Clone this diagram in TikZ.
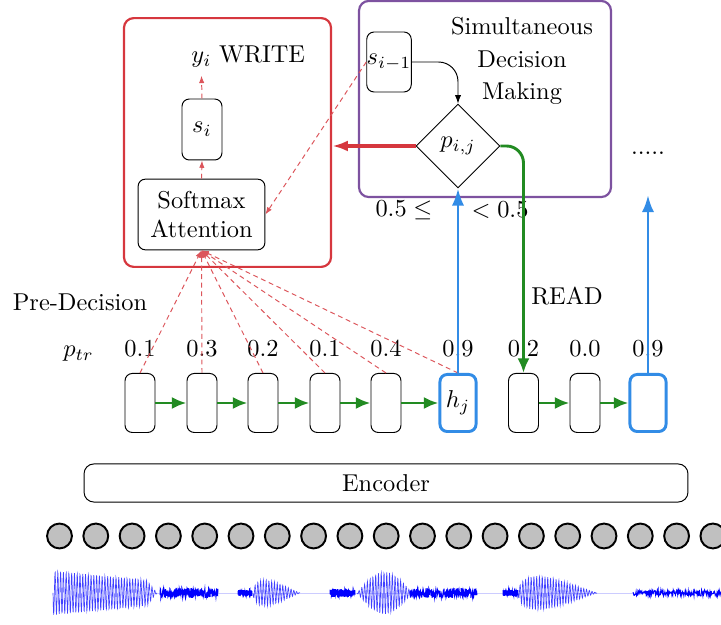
\documentclass[tikz,border=0pt]{standalone}
\usepackage{amsmath,amssymb}
\usepackage{tikz}
\usetikzlibrary{positioning,calc,shapes.geometric,arrows.meta}

\definecolor{writered}{RGB}{214,55,62}
\definecolor{decpurple}{RGB}{125,82,160}
\definecolor{readgreen}{RGB}{34,139,34}
\definecolor{stateblue}{RGB}{50,140,230}
\definecolor{framegray}{RGB}{192,192,192}

\begin{document}
\begin{tikzpicture}[x=0.41pt,y=-0.41pt,
    rbox/.style={draw,rounded corners=3pt,inner sep=0pt},
    hbox/.style={rbox,minimum width=12.3pt,minimum height=24.2pt},
    hsel/.style={rbox,draw=stateblue,line width=1.2pt,minimum width=14.8pt,minimum height=23.4pt},
    frame/.style={circle,draw,fill=framegray,line width=0.8pt,minimum size=10.2pt,inner sep=0pt},
    flow/.style={draw=readgreen,line width=1.2pt,-{Latex[length=6pt,width=5pt]}},
    selarrow/.style={draw=stateblue,line width=1.2pt,-{Latex[length=7pt,width=5pt]}},
    writearrow/.style={draw=writered,line width=1.3pt,-{Latex[length=6.5pt,width=4.5pt]}},
    attn/.style={draw=writered!85,line width=0.4pt,dash pattern=on 2pt off 1.5pt,-{Latex[length=3pt,width=2.2pt]}},
    wave/.style={blue!75,line width=0.25pt}]
  \useasboundingbox (0,0) rectangle (721,625);

  % WRITE block
  \node[draw=writered,line width=0.9pt,rounded corners=4pt,minimum width=84.9pt,minimum height=102pt] (writebox) at (227.5,142.5) {};
  \node[rbox,align=center,minimum width=52pt,minimum height=29pt] (softmax) at (201.5,214.5) {Softmax\\Attention};
  \node[rbox,minimum width=16.4pt,minimum height=25pt] (si) at (202,129.5) {$s_i$};
  \node (yi) at (201.5,59.5) {$y_i$};
  \node[anchor=base west,xshift=-4pt] (write) at (yi.base east) {WRITE};

  % decision block
  \node[draw=decpurple,line width=0.9pt,rounded corners=4pt,minimum width=103.3pt,minimum height=80.4pt] (decbox) at (485,99) {};
  \node[align=center] (simtxt) at (522,61) {Simultaneous\\[1.3pt]Decision\\[1.3pt]Making};
  \node[rbox,minimum width=17.2pt,minimum height=24.6pt] (sim1) at (389,62) {$s_{i-1}$};
  \node[draw,diamond,minimum width=34.4pt,minimum height=34.4pt,inner sep=0pt] (pij) at (458,146) {$p_{i,j}$};
  \node (ge) at (404,210) {$0.5\leq$};
  \node (lt) at (500,210) {$<0.5$};
  \node (dots) at (648,153) {.....};
  \node (read) at (567,296) {READ};
  \node (predec) at (80,302) {Pre-Decision};

  % encoder states
  \node[hbox] (h1) at (140,403) {};
  \node[hbox] (h2) at (202,403) {};
  \node[hbox] (h3) at (263,403) {};
  \node[hbox] (h4) at (325,403) {};
  \node[hbox] (h5) at (386,403) {};
  \node[hsel] (hj) at (458,403) {$h_j$};
  \node[hbox] (h7) at (523.5,403) {};
  \node[hbox] (h8) at (585,403) {};
  \node[hsel] (h9) at (648,403) {};

  \node[above=3pt of h1] (p1) {0.1};
  \node[above=3pt of h2] (p2) {0.3};
  \node[above=3pt of h3] (p3) {0.2};
  \node[above=3pt of h4] (p4) {0.1};
  \node[above=3pt of h5] (p5) {0.4};
  \node[above=3pt of hj] (pj) {0.9};
  \node[above=3pt of h7] (p7) {0.2};
  \node[above=3pt of h8] (p8) {0.0};
  \node[above=3pt of h9] (p9) {0.9};
  \node[anchor=base] (ptr) at ($(p1.base)+(-61.5,0)$) {$p_{tr}$};
  \coordinate (nxt) at (648,195);

  \node[draw,rounded corners=4pt,minimum width=247.6pt,minimum height=15.6pt] (enc) at (386,483) {Encoder};
  \foreach \i in {0,...,18}
    \node[frame] (f\i) at (59.5+36.3*\i,536) {};

  % connectors
  \foreach \a/\b in {h1/h2,h2/h3,h3/h4,h4/h5,h5/hj,h7/h8,h8/h9}
    \draw[flow] (\a.east) -- (\b.west);
  \foreach \n in {h1,h2,h3,h4,h5,hj}
    \draw[attn] (\n.north) -- (softmax.south);
  \draw[attn] (softmax.north) -- (si.south);
  \draw[attn] (si.north) -- (yi.south);
  \draw[attn] (sim1.west) -- (softmax.east);
  \draw[line width=0.4pt,-{Latex[length=3.5pt,width=2.6pt]},rounded corners=8pt] (sim1.east) -| (pij.north);
  \draw[writearrow] (pij.west) -- (pij.west -| writebox.east);
  \draw[flow,rounded corners=7pt] (pij.east) -| (h7.north);
  \draw[selarrow] (hj.north) -- (pij.south);
  \draw[selarrow] (h9.north) -- (nxt);

  % waveform
  \draw[blue!20,line width=0.4pt] (155,593) -- (721,593);
  \draw[wave] plot[domain=0:104,samples=330] (53+\x,{593+22*(1-0.45*\x/104)*min(1,(104-\x)/10)*sin(130*\x)});
  \draw[wave] plot[domain=0:47,samples=150] (253+\x,{593+13*sin(180*sqrt(\x/47))*sin(130*\x)});
  \draw[wave] plot[domain=0:55,samples=175] (357+\x,{593+21*sin(180*\x/55)*sin(130*\x)});
  \draw[wave] plot[domain=0:79,samples=250] (518+\x,{593+17*sin(180*sqrt(\x/79))*sin(130*\x)});
  \foreach \a/\b/\amp in {160/218/5,238/252/3,330/355/4,410/477/5,503/518/3,633/721/3}
    \draw[blue,line width=0.4pt] plot[domain=\a:\b,samples=200] (\x,{593+\amp*rand});
\end{tikzpicture}
\end{document}
